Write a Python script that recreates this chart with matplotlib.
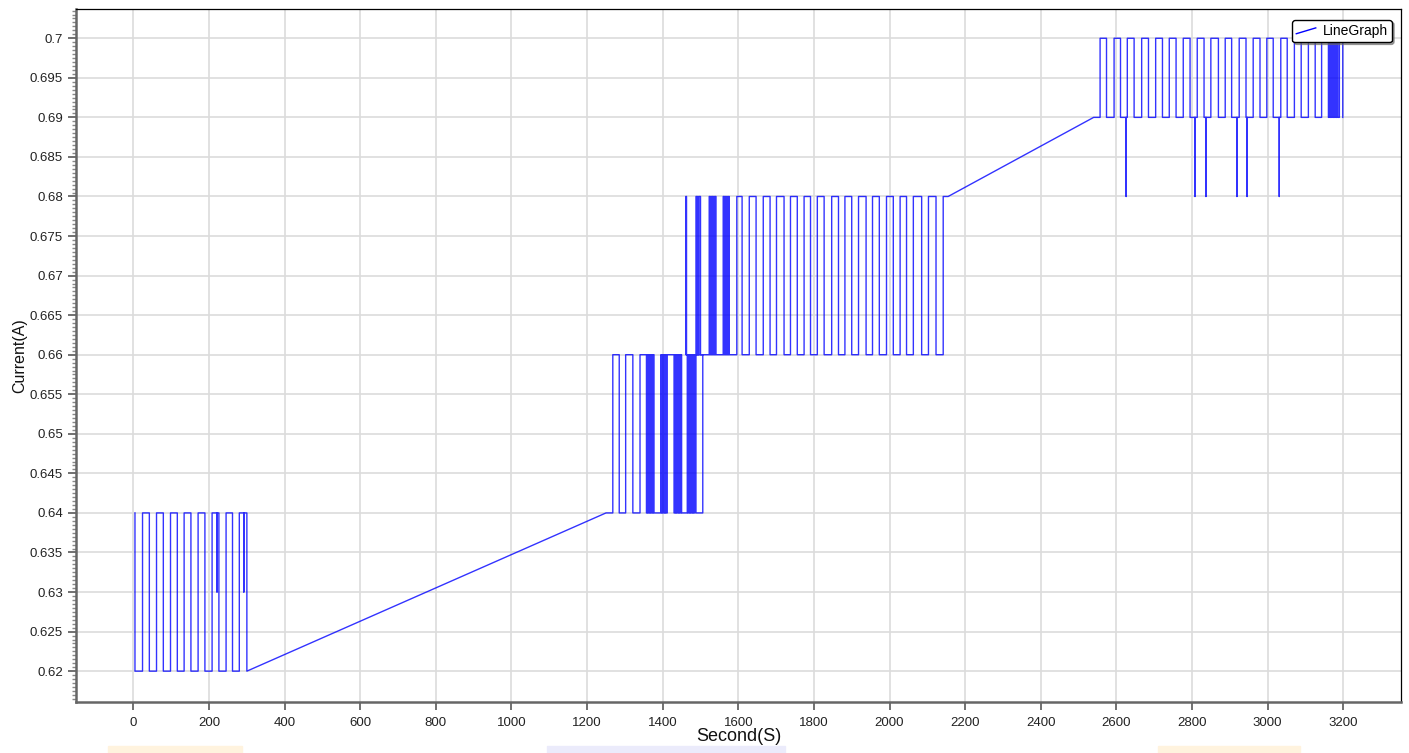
import matplotlib
matplotlib.use('Agg')
import matplotlib.pyplot as plt
from matplotlib.lines import Line2D
from matplotlib.patches import Rectangle
from matplotlib.legend_handler import HandlerLine2D
from matplotlib.ticker import MultipleLocator

plt.rcParams['font.family'] = ['Liberation Sans', 'DejaVu Sans']

# burst 1: 0.62 / 0.64
b1_start = (4, 0.64)
b1_rise = [24, 61, 98, 134, 171, 208, 245, 280]
b1_fall = [4, 42, 79, 116, 152, 189, 226, 262, 300]
b1_spikes = [221, 292]
b1_levels = (0.62, 0.64, 0.63)

# burst 2: 0.64 / 0.66
b2_start = (1250, 0.64)
b2_rise = [1268, 1302, 1340, 1359, 1363, 1367, 1371, 1375, 1395, 1399, 1403, 1407, 1412,
           1432, 1436, 1440, 1444, 1448, 1465, 1469, 1473, 1477, 1481, 1485, 1506]
b2_fall = [1285, 1321, 1357, 1361, 1365, 1369, 1373, 1377, 1397, 1401, 1405, 1409, 1430,
           1434, 1438, 1442, 1446, 1450, 1467, 1471, 1475, 1479, 1483, 1488]
b2_spikes = []
b2_levels = (0.64, 0.66, 0.65)

# burst 3: 0.66 / 0.68
b3_start = (1461, 0.66)
b3_rise = [1461, 1488, 1492, 1496, 1523, 1527, 1531, 1535, 1539, 1560, 1564, 1569, 1574, 1596,
           1629, 1666, 1701, 1738, 1774, 1809, 1847, 1882, 1918, 1955, 1992, 2028, 2063, 2103, 2142]
b3_fall = [1463, 1490, 1494, 1500, 1525, 1529, 1533, 1537, 1541, 1562, 1566, 1571, 1576, 1610,
           1647, 1684, 1721, 1756, 1791, 1827, 1865, 1900, 1938, 1973, 2010, 2045, 2085, 2123]
b3_spikes = []
b3_levels = (0.66, 0.68, 0.67)
b3_end = 2155

# burst 4: 0.69 / 0.70, short drops to 0.68
b4_start = (2540, 0.69)
b4_rise = [2557, 2594, 2629, 2667, 2704, 2740, 2777, 2814, 2850, 2888, 2925, 2962, 2998, 3035,
           3071, 3108, 3143, 3163, 3167, 3171, 3175, 3179, 3184, 3190]
b4_fall = [2574, 2611, 2647, 2685, 2722, 2758, 2795, 2832, 2870, 2905, 2943, 2980, 3015, 3052,
           3089, 3126, 3161, 3165, 3169, 3173, 3177, 3181, 3186, 3199]
b4_spikes = [2626, 2808, 2837, 2919, 2946, 3031]
b4_levels = (0.69, 0.70, 0.68)

x_ticks = list(range(0, 3201, 200))


def burst(start, rise, fall, spikes, levels, end=None):
	low, high, dip = levels
	ev = [(t, high) for t in rise] + [(t, low) for t in fall] + [(t, None) for t in spikes]
	ev.sort(key=lambda e: e[0])
	xs, ys = [start[0]], [start[1]]
	cur = start[1]
	for t, v in ev:
		if v is None:
			xs += [t, t, t]
			ys += [cur, dip, cur]
		else:
			xs += [t, t]
			ys += [cur, v]
			cur = v
	if end is not None:
		xs.append(end)
		ys.append(cur)
	return xs, ys


X, Y = [], []
for b in [burst(b1_start, b1_rise, b1_fall, b1_spikes, b1_levels),
          burst(b2_start, b2_rise, b2_fall, b2_spikes, b2_levels),
          burst(b3_start, b3_rise, b3_fall, b3_spikes, b3_levels, b3_end),
          burst(b4_start, b4_rise, b4_fall, b4_spikes, b4_levels)]:
	X += b[0]
	Y += b[1]


class DiagHandler(HandlerLine2D):
	def create_artists(self, legend, orig_handle, xdescent, ydescent, width, height, fontsize, trans):
		ln = Line2D([-xdescent, -xdescent + width], [-ydescent + 0.15 * height, -ydescent + 0.75 * height])
		ln.update_from(orig_handle)
		ln.set_alpha(1)
		ln.set_transform(trans)
		return [ln]


fig = plt.figure(figsize=(14.09, 7.53), dpi=100)
ax = fig.add_axes([76 / 1409, 1 - 702 / 753, 1325 / 1409, 693 / 753])

line, = ax.plot(X, Y, color='#0000ff', lw=1, alpha=0.8, label='LineGraph')

ax.set_xlim(-152, 3353)
ax.set_ylim(0.6161, 0.7037)
ax.set_xticks(x_ticks)
ax.yaxis.set_major_locator(MultipleLocator(0.005))
ax.yaxis.set_minor_locator(MultipleLocator(0.0005))
ax.yaxis.set_major_formatter(plt.FuncFormatter(lambda v, p: ('%.3f' % v).rstrip('0').rstrip('.')))

ax.grid(True, which='major', color='#dcdcdc', lw=1.2)
ax.set_axisbelow(True)

ax.tick_params(axis='both', which='major', length=6, width=1.3, color='#666666',
               labelsize=9.5, labelcolor='#222222', direction='out')
ax.tick_params(axis='x', which='major', pad=5)
ax.tick_params(axis='y', which='minor', length=3, width=1, color='#888888', direction='out')

for s in ['left', 'bottom']:
	ax.spines[s].set_color('#666666')
	ax.spines[s].set_linewidth(1.8)
for s in ['top', 'right']:
	ax.spines[s].set_color('black')
	ax.spines[s].set_linewidth(0.9)

ax.set_ylabel('Current(A)', fontsize=11.5, color='#111111', labelpad=2)
ax.set_xlabel('Second(S)', fontsize=13, color='#111111', labelpad=-1)

leg = ax.legend(handles=[line], handler_map={Line2D: DiagHandler()}, loc='upper right',
                bbox_to_anchor=(0.9932, 0.9841), borderaxespad=0, fontsize=10, fancybox=True,
                framealpha=1, edgecolor='black', handlelength=1.4, handletextpad=0.5,
                borderpad=0.3, shadow={'color': '0.4', 'alpha': 0.6, 'ox': 1.5, 'oy': -1.5})
leg.get_frame().set_linewidth(1.0)

# faint strips cut off at the bottom edge of the capture
for x0, x1, c in [(108, 242, '#fff3de'), (547, 785, '#ebebfb'), (1158, 1300, '#fff3de')]:
	fig.patches.append(Rectangle((x0 / 1409, 0), (x1 - x0) / 1409, 7 / 753,
	                             transform=fig.transFigure, color=c, zorder=0))

fig.savefig('out.png', dpi=100)
